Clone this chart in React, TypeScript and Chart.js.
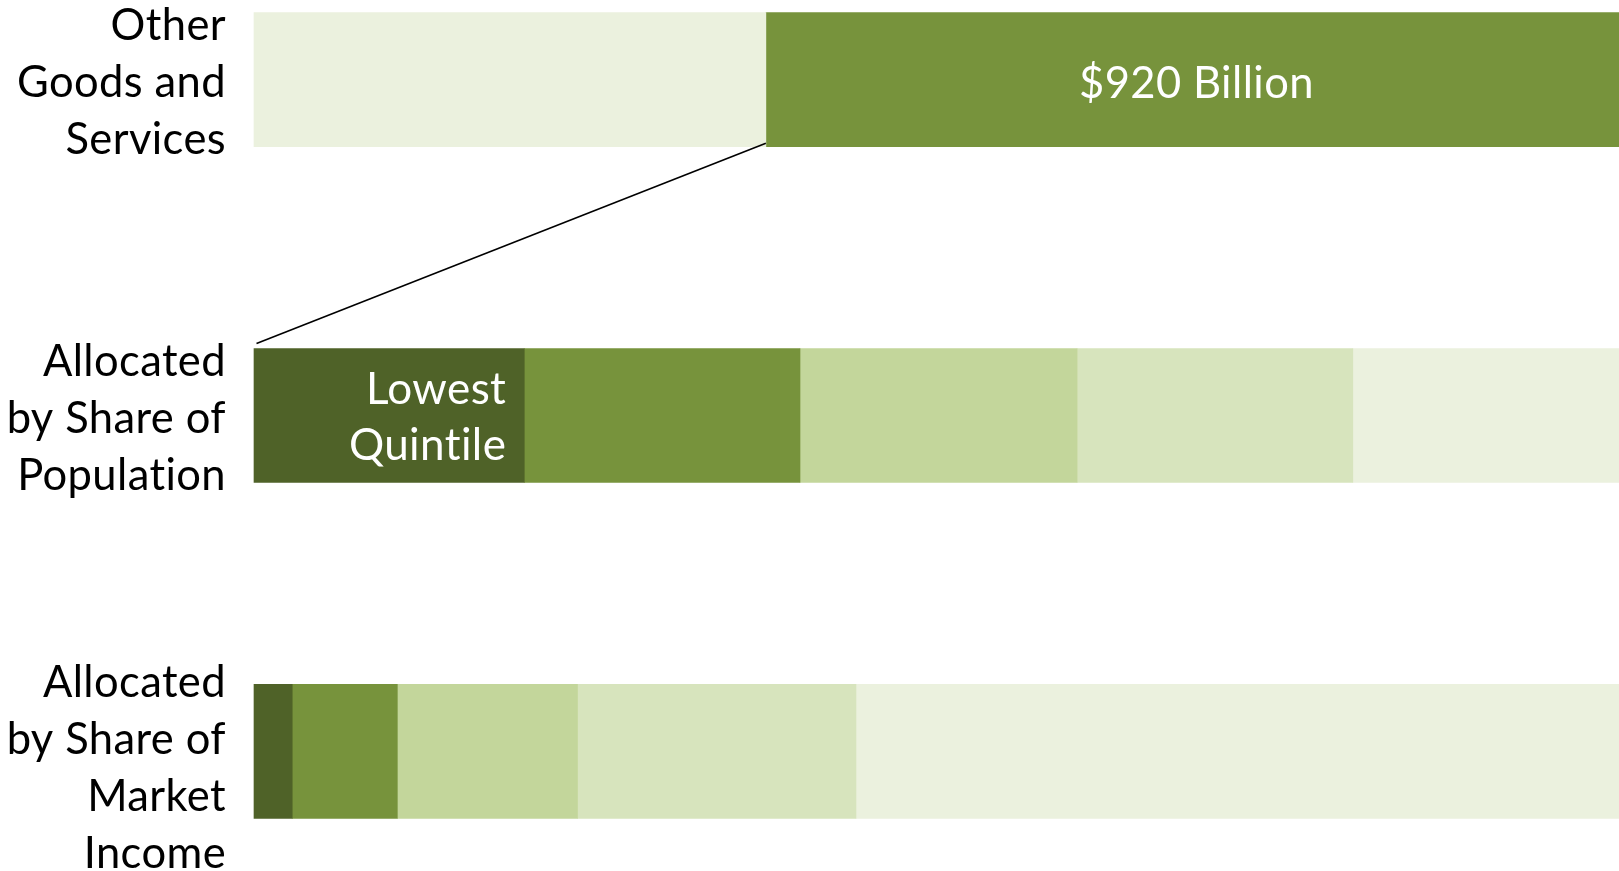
import React, { useEffect, useRef } from "react";
import { Chart, registerables } from "chart.js";

Chart.register(...registerables);

// ---- Data ----
const categories: string[][] = [
  ["Other", "Goods and", "Services"],
  ["Allocated", "by Share of", "Population"],
  ["Allocated", "by Share of", "Market", "Income"],
];
const otherRest = [37.5, null, null];
const otherBillion = [62.5, null, null];
const quintile1 = [null, 19.8, 2.8];
const quintile2 = [null, 20.2, 7.7];
const quintile3 = [null, 20.3, 13.2];
const quintile4 = [null, 20.2, 20.4];
const quintile5 = [null, 19.5, 55.9];
const billionLabel = "$920 Billion";
const lowestLabel = ["Lowest", "Quintile"];

// ---- Styles ----
const C_DARK = "#4F6228";
const C_MID = "#77933C";
const C_LIGHT = "#C3D69B";
const C_LIGHTER = "#D7E4BD";
const C_LIGHTEST = "#EBF1DE";
const FONT = "Lato, 'Open Sans', sans-serif";
const LABEL_SIZE = 43.5;
const LINE_H = 57;
const LABEL_SHIFT = [0, 0, 14];

const overlayPlugin = {
  id: "overlay",
  afterDatasetsDraw(chart: any) {
    const ctx = chart.ctx;
    const y = chart.scales.y;
    ctx.save();
    // connector line
    const topEl = chart.getDatasetMeta(1).data[0];
    const midEl = chart.getDatasetMeta(2).data[1];
    if (topEl && midEl) {
      ctx.beginPath();
      ctx.strokeStyle = "#000";
      ctx.lineWidth = 1.6;
      ctx.moveTo(topEl.base, topEl.y + topEl.height / 2 - 3.5);
      ctx.lineTo(midEl.base + 2.5, midEl.y - midEl.height / 2 - 5);
      ctx.stroke();
    }
    // in-bar labels
    ctx.fillStyle = "#fff";
    ctx.textBaseline = "alphabetic";
    try { (ctx as any).letterSpacing = "0.4px"; } catch (e) {}
    if (topEl) {
      ctx.font = `43.5px ${FONT}`;
      ctx.textAlign = "center";
      ctx.fillText(billionLabel, (topEl.base + topEl.x) / 2 + 4, topEl.y + 18);
    }
    if (midEl) {
      ctx.font = `44px ${FONT}`;
      ctx.textAlign = "right";
      const n = lowestLabel.length;
      lowestLabel.forEach((t, k) => {
        ctx.fillText(t, midEl.x - 18, midEl.y + 16 + (k - (n - 1) / 2) * 56);
      });
    }
    // category labels
    ctx.fillStyle = "#000";
    ctx.font = `${LABEL_SIZE}px ${FONT}`;
    ctx.textAlign = "right";
    categories.forEach((lines, i) => {
      const cy = y.getPixelForValue(i);
      const n = lines.length;
      lines.forEach((t, k) => {
        ctx.fillText(t, chart.chartArea.left - 28, cy + 17 + (k - (n - 1) / 2) * LINE_H + LABEL_SHIFT[i]);
      });
    });
    ctx.restore();
  },
};

export default function App() {
  const ref = useRef<HTMLCanvasElement | null>(null);
  useEffect(() => {
    document.body.style.margin = "0";
    if (!ref.current) return;
    const mk = (label: string, data: (number | null)[], color: string) => ({
      label,
      data,
      backgroundColor: color,
      borderWidth: 0,
      barThickness: 134,
      clip: false as any,
    });
    const chart = new Chart(ref.current, {
      type: "bar",
      data: {
        labels: categories.map((c) => c.join(" ")),
        datasets: [
          mk("Other", otherRest, C_LIGHTEST),
          mk("$920 Billion", otherBillion, C_MID),
          mk("Lowest Quintile", quintile1, C_DARK),
          mk("Second Quintile", quintile2, C_MID),
          mk("Middle Quintile", quintile3, C_LIGHT),
          mk("Fourth Quintile", quintile4, C_LIGHTER),
          mk("Highest Quintile", quintile5, C_LIGHTEST),
        ],
      },
      options: {
        indexAxis: "y",
        animation: false,
        responsive: false,
        devicePixelRatio: 1,
        layout: { padding: { left: 254, right: 0, top: 79.7, bottom: 119.7 } },
        plugins: { legend: { display: false }, tooltip: { enabled: false } },
        scales: {
          x: { stacked: true, min: 0, max: 100, display: false, grid: { display: false } },
          y: { stacked: true, display: false, offset: false, grid: { display: false } },
        },
      },
      plugins: [overlayPlugin],
    });
    return () => chart.destroy();
  }, []);
  return (
    <div style={{ width: 1619, height: 871, background: "#fff" }}>
      <canvas ref={ref} width={1619} height={871} style={{ display: "block" }} />
    </div>
  );
}
